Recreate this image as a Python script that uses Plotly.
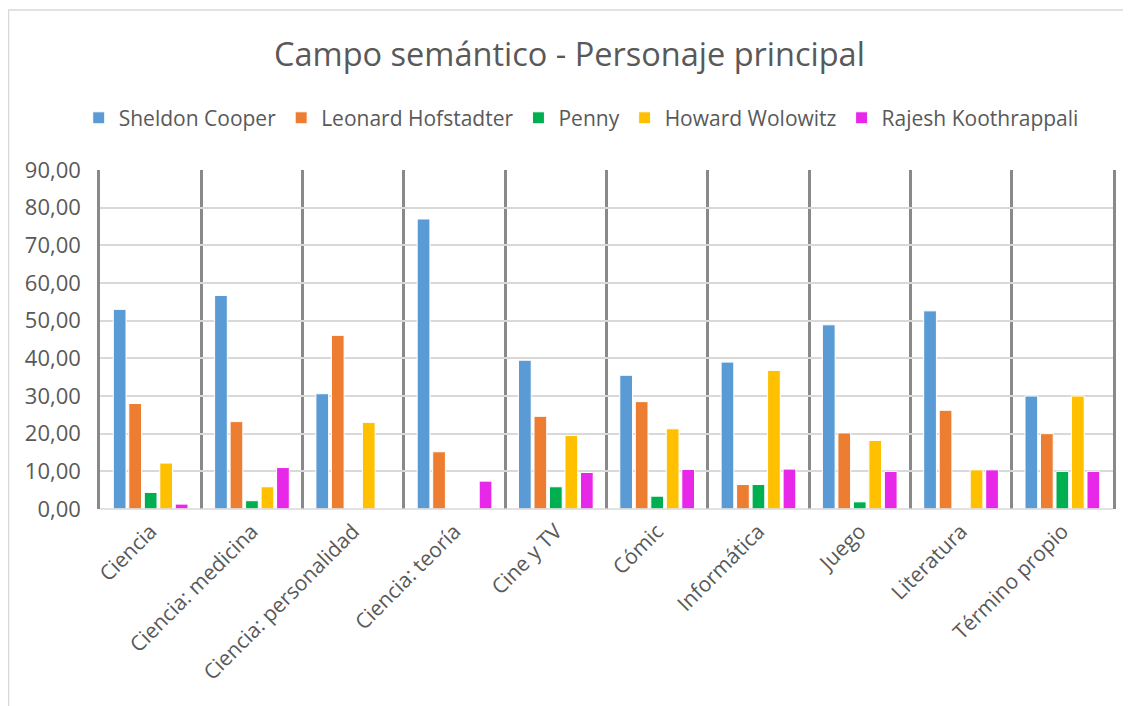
import plotly.graph_objects as go

categories = ["Ciencia", "Ciencia: medicina", "Ciencia: personalidad", "Ciencia: teoría",
              "Cine y TV", "Cómic", "Informática", "Juego", "Literatura", "Término propio"]

sheldon = [53.0, 56.7, 30.6, 77.0, 39.5, 35.5, 39.0, 48.9, 52.6, 30.0]
leonard = [28.0, 23.2, 46.1, 15.2, 24.6, 28.5, 6.5, 20.2, 26.2, 20.0]
penny = [4.4, 2.2, None, None, 5.9, 3.4, 6.5, 1.9, None, 10.0]
howard = [12.2, 5.9, 23.0, None, 19.5, 21.3, 36.8, 18.2, 10.4, 30.0]
rajesh = [1.3, 11.0, None, 7.4, 9.7, 10.5, 10.6, 10.0, 10.4, 10.0]

series = [
    ("Sheldon Cooper", sheldon, "#5B9BD5"),
    ("Leonard Hofstadter", leonard, "#ED7D31"),
    ("Penny", penny, "#00B050"),
    ("Howard Wolowitz", howard, "#FFC000"),
    ("Rajesh Koothrappali", rajesh, "#E828E8"),
]

font_family = "Open Sans, Noto Sans, sans-serif"
W, H = 1123, 698
L, R, T, B = 92, 18, 162, 197

fig = go.Figure()
for name, vals, color in series:
    fig.add_trace(go.Bar(
        name=name, x=categories, y=vals,
        marker=dict(color=color, line=dict(color="white", width=1)),
    ))

fig.update_layout(
    width=W, height=H,
    margin=dict(l=L, r=R, t=T, b=B),
    paper_bgcolor="white", plot_bgcolor="white",
    separators=",.",
    barmode="group", bargap=0.235, bargroupgap=0.18,
    font=dict(family=font_family, color="#595959", size=21),
    title=dict(text="Campo semántico - Personaje principal",
               x=0.5, xanchor="center", y=1 - 47 / H, yanchor="middle",
               font=dict(size=32.5, color="#595959", family=font_family)),
    legend=dict(orientation="h", x=-0.021, xanchor="left", y=1.153, yanchor="middle",
                font=dict(size=21, color="#595959"), itemwidth=30,
                traceorder="normal"),
    showlegend=True,
)
fig.update_yaxes(range=[0, 90], dtick=10, tickformat=".2f",
                 showgrid=True, gridcolor="#D9D9D9", gridwidth=1.5,
                 zeroline=False, showline=True, mirror=True,
                 linecolor="#898989", linewidth=2.5, ticklabelstandoff=12,
                 tickfont=dict(size=22, color="#595959"), ticks="")
fig.update_xaxes(showgrid=True, gridcolor="#898989", gridwidth=2.5, tickson="boundaries",
                 ticks="", tickangle=-45, showline=False, ticklabelstandoff=5,
                 tickfont=dict(size=21, color="#595959"))
fig.add_shape(type="line", xref="paper", yref="paper", x0=0, x1=1, y0=0, y1=0,
              line=dict(color="#D9D9D9", width=1.5))
pw = W - L - R
ph = H - T - B
fig.add_shape(type="rect", xref="paper", yref="paper",
              x0=(0.5 - L) / pw, x1=(W + 20 - L) / pw,
              y0=(H - B - (H + 20)) / ph, y1=(H - B - 2) / ph,
              line=dict(color="#D9D9D9", width=1.5), layer="below")

fig.write_html("out.html")
